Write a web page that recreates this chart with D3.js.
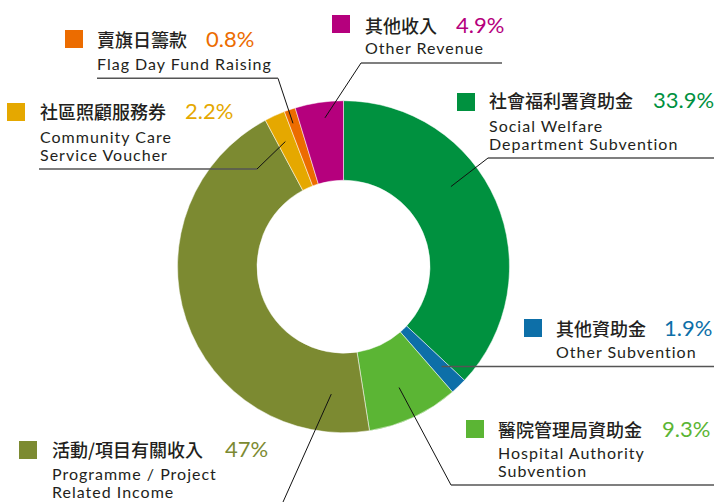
<!DOCTYPE html>
<html>
<head>
<meta charset="utf-8">
<script src="https://cdn.jsdelivr.net/npm/d3@7"></script>
<style>
  body { margin: 0; background: #fff; }
  .en { font-family: Lato, "Open Sans", sans-serif; font-size: 16px; fill: #231f20; letter-spacing: 1px; }
  .zh { font-family: "Noto Sans CJK TC", sans-serif; font-size: 18px; font-weight: 500; fill: #231f20; }
  .pct { font-family: Lato, "Open Sans", sans-serif; font-size: 22px; }
</style>
</head>
<body>
<script>
// categories, clockwise from 12 o'clock
const zhNames = ["社會福利署資助金", "其他資助金", "醫院管理局資助金", "活動/項目有關收入", "社區照顧服務券", "賣旗日籌款", "其他收入"];
const enNames = [
  ["Social Welfare", "Department Subvention"],
  ["Other Subvention"],
  ["Hospital Authority", "Subvention"],
  ["Programme / Project", "Related Income"],
  ["Community Care", "Service Voucher"],
  ["Flag Day Fund Raising"],
  ["Other Revenue"]
];
// printed percentages
const pctLabels = ["33.9%", "1.9%", "9.3%", "47%", "2.2%", "0.8%", "4.9%"];
// slice sizes as drawn in the picture (percent of circle)
const shares = [37.0, 1.6, 8.9, 44.7, 2.0, 1.1, 4.7];
const colors = ["#00913f", "#0d6fa8", "#5bb534", "#7c8a31", "#e5a800", "#ec6c00", "#b5007d"];

const width = 714, height = 502;
const cx = 343.5, cy = 266.7, outerR = 166, innerR = 86.5;

// label layout (square, text x, baselines, percentage x, leader)
const layout = [
  {sq: [457, 93], tx: 489, zy: 108, px: 653, ey: 132, t: 0.40, r: 134, elbow: [488, 158], lineTo: 714},
  {sq: [524, 319], tx: 556, zy: 336, px: 664, ey: 358, t: 0.40, r: 140, elbow: null, lineTo: 714},
  {sq: [466, 420], tx: 498, zy: 437, px: 662, ey: 459, t: 0.51, r: 133, elbow: [451, 485], lineTo: 714},
  {sq: [19, 441], tx: 52, zy: 457, px: 225, ey: 480, t: 0.09, r: 128, elbow: [279, 511], lineTo: 0},
  {sq: [7, 103], tx: 40, zy: 119, px: 185, ey: 143, t: 0.44, r: 138, elbow: [257, 169], lineTo: 39},
  {sq: [65, 30], tx: 97, zy: 47, px: 206, ey: 70, t: 0.37, r: 152, elbow: [278, 78.3], lineTo: 97},
  {sq: [332, 15], tx: 365, zy: 33, px: 456, ey: 54, t: 0.58, r: 150, elbow: [361, 63], lineTo: 502}
];

const svg = d3.select("body").append("svg")
  .attr("width", width)
  .attr("height", height);

const pie = d3.pie().sort(null).value(d => d);
const arcs = pie(shares);

const arc = d3.arc().innerRadius(innerR).outerRadius(outerR);

const g = svg.append("g").attr("transform", `translate(${cx},${cy})`);

g.selectAll("path.slice")
  .data(arcs)
  .join("path")
  .attr("class", "slice")
  .attr("d", arc)
  .attr("fill", (d, i) => colors[i])
  .attr("stroke", "#fff")
  .attr("stroke-width", 0.5);

// leader lines
const lines = svg.append("g");
arcs.forEach((a, i) => {
  const L = layout[i];
  const ang = a.startAngle + L.t * (a.endAngle - a.startAngle);
  const ax = cx + L.r * Math.sin(ang);
  const ay = cy - L.r * Math.cos(ang);
  if (L.elbow) {
    lines.append("line")
      .attr("x1", ax).attr("y1", ay)
      .attr("x2", L.elbow[0]).attr("y2", L.elbow[1])
      .attr("stroke", "#111").attr("stroke-width", 1);
    lines.append("line")
      .attr("x1", L.elbow[0]).attr("y1", L.elbow[1])
      .attr("x2", L.lineTo).attr("y2", L.elbow[1])
      .attr("stroke", "#555").attr("stroke-width", 1.4);
  } else {
    lines.append("line")
      .attr("x1", ax).attr("y1", ay)
      .attr("x2", L.lineTo).attr("y2", ay)
      .attr("stroke", "#555").attr("stroke-width", 1.4);
  }
});

// labels
const labels = svg.append("g");
zhNames.forEach((name, i) => {
  const L = layout[i];
  labels.append("rect")
    .attr("x", L.sq[0]).attr("y", L.sq[1])
    .attr("width", 18).attr("height", 18)
    .attr("fill", colors[i]);
  labels.append("text")
    .attr("class", "zh")
    .attr("x", L.tx).attr("y", L.zy)
    .text(name);
  labels.append("text")
    .attr("class", "pct")
    .attr("x", L.px).attr("y", L.zy)
    .attr("fill", colors[i])
    .text(pctLabels[i]);
  enNames[i].forEach((line, j) => {
    labels.append("text")
      .attr("class", "en")
      .attr("x", L.tx).attr("y", L.ey + j * 18)
      .text(line);
  });
});
</script>
</body>
</html>
